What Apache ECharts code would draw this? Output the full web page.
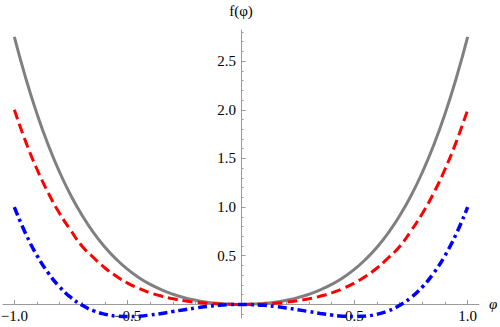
<!DOCTYPE html>
<html>
<head>
<meta charset="utf-8">
<script src="https://cdn.jsdelivr.net/npm/echarts@6/dist/echarts.min.js"></script>
<style>
html, body { margin: 0; padding: 0; background: #fff; }
#plot { width: 500px; height: 327px; }
</style>
</head>
<body>
<div id="plot"></div>
<script>
// values, phi from -1 to 1 in steps of 0.05
var phi = [-1.0, -0.95, -0.9, -0.85, -0.8, -0.75, -0.7, -0.65, -0.6, -0.55, -0.5,
    -0.45, -0.4, -0.35, -0.3, -0.25, -0.2, -0.15, -0.1, -0.05, 0,
    0.05, 0.1, 0.15, 0.2, 0.25, 0.3, 0.35, 0.4, 0.45, 0.5,
    0.55, 0.6, 0.65, 0.7, 0.75, 0.8, 0.85, 0.9, 0.95, 1.0];
var grayCurve = [2.75, 2.328, 1.958, 1.636, 1.357, 1.116, 0.91, 0.735, 0.587, 0.463, 0.359,
    0.274, 0.205, 0.149, 0.104, 0.069, 0.043, 0.023, 0.01, 0.003, 0,
    0.003, 0.01, 0.023, 0.043, 0.069, 0.104, 0.149, 0.205, 0.274, 0.359,
    0.463, 0.587, 0.735, 0.91, 1.116, 1.357, 1.636, 1.958, 2.328, 2.75];
var redCurve = [2.0, 1.673, 1.389, 1.144, 0.934, 0.756, 0.595, 0.479, 0.374, 0.289, 0.219,
    0.163, 0.118, 0.084, 0.057, 0.037, 0.022, 0.012, 0.005, 0.001, 0,
    0.001, 0.005, 0.012, 0.022, 0.037, 0.057, 0.084, 0.118, 0.163, 0.219,
    0.289, 0.374, 0.479, 0.595, 0.756, 0.934, 1.144, 1.389, 1.673, 2.0];
var blueCurve = [1.0, 0.727, 0.502, 0.322, 0.179, 0.07, -0.01, -0.066, -0.101, -0.12, -0.125,
    -0.121, -0.109, -0.093, -0.074, -0.055, -0.037, -0.022, -0.01, -0.003, 0,
    -0.003, -0.01, -0.022, -0.037, -0.055, -0.074, -0.093, -0.109, -0.121, -0.125,
    -0.12, -0.101, -0.066, -0.01, 0.07, 0.179, 0.322, 0.502, 0.727, 1.0];

var xMajor = [-1.0, -0.5, 0.5, 1.0];
var xMinor = [-1.0, -0.9, -0.8, -0.7, -0.6, -0.5, -0.4, -0.3, -0.2, -0.1,
    0.1, 0.2, 0.3, 0.4, 0.5, 0.6, 0.7, 0.8, 0.9, 1.0];
var yMajor = [0.5, 1.0, 1.5, 2.0, 2.5];
var yMinor = [-0.1, 0.1, 0.2, 0.3, 0.4, 0.5, 0.6, 0.7, 0.8, 0.9, 1.0, 1.1, 1.2, 1.3, 1.4,
    1.5, 1.6, 1.7, 1.8, 1.9, 2.0, 2.1, 2.2, 2.3, 2.4, 2.5, 2.6, 2.7, 2.8];

var chartDom = document.getElementById('plot');
var plotChart = echarts.init(chartDom, null, { renderer: 'svg' });
var axisColor = '#9a9a9a';
var font = "'Liberation Serif', 'Times New Roman', serif";

// grid box; the axes cross at (0, 0), so shift them in from the grid edges
var gridLeft = 3, gridRight = 21, gridTop = 30, gridBottom = 9;
var xMin = -1.05, xMax = 1.05, yMin = -0.14, yMax = 2.82;
var plotW = 500 - gridLeft - gridRight;
var plotH = 327 - gridTop - gridBottom;
var yAxisShift = -plotW * (0 - xMin) / (xMax - xMin);
var xAxisShift = -plotH * (0 - yMin) / (yMax - yMin);

function pairs(ys) {
    return phi.map(function (x, i) { return [x, ys[i]]; });
}

function minusSign(v) {
    return v.toFixed(1).replace('-', '\u2212');
}

var option = {
    animation: false,
    grid: { left: gridLeft, right: gridRight, top: gridTop, bottom: gridBottom, containLabel: false, outerBoundsMode: 'none' },
    xAxis: [{
        type: 'value',
        min: xMin,
        max: xMax,
        position: 'bottom',
        offset: xAxisShift,
        name: 'φ',
        nameGap: 10,
        nameTextStyle: { fontFamily: font, fontSize: 15, fontStyle: 'italic', color: '#000' },
        axisLine: { onZero: false, lineStyle: { color: axisColor, width: 1 } },
        axisTick: { inside: true, length: 4.5, customValues: xMajor, lineStyle: { color: axisColor } },
        axisLabel: {
            customValues: xMajor, margin: 4, color: '#000', fontFamily: font, fontSize: 15,
            formatter: minusSign
        },
        splitLine: { show: false }
    }, {
        type: 'value',
        min: xMin,
        max: xMax,
        position: 'bottom',
        offset: xAxisShift,
        axisLine: { show: false, onZero: false },
        axisTick: { inside: true, length: 2.5, customValues: xMinor, lineStyle: { color: axisColor } },
        axisLabel: { show: false },
        splitLine: { show: false }
    }],
    yAxis: [{
        type: 'value',
        min: yMin,
        max: yMax,
        position: 'left',
        offset: yAxisShift,
        name: 'f(φ)',
        nameGap: 12,
        nameTextStyle: { fontFamily: font, fontSize: 15, color: '#000' },
        axisLine: { onZero: false, lineStyle: { color: axisColor, width: 1 } },
        axisTick: { inside: true, length: 4.5, customValues: yMajor, lineStyle: { color: axisColor } },
        axisLabel: {
            customValues: yMajor, margin: 5, color: '#000', fontFamily: font, fontSize: 15,
            formatter: function (v) { return v.toFixed(1); }
        },
        splitLine: { show: false }
    }, {
        type: 'value',
        min: yMin,
        max: yMax,
        position: 'left',
        offset: yAxisShift,
        axisLine: { show: false, onZero: false },
        axisTick: { inside: true, length: 2.5, customValues: yMinor, lineStyle: { color: axisColor } },
        axisLabel: { show: false },
        splitLine: { show: false }
    }],
    series: [{
        name: 'gray',
        type: 'line',
        data: pairs(grayCurve),
        smooth: true,
        showSymbol: false,
        lineStyle: { color: '#808080', width: 3 }
    }, {
        name: 'red',
        type: 'line',
        data: pairs(redCurve),
        smooth: true,
        showSymbol: false,
        lineStyle: { color: '#ff0000', width: 3, type: [10, 5], cap: 'butt' }
    }, {
        name: 'blue',
        type: 'line',
        data: pairs(blueCurve),
        smooth: true,
        showSymbol: false,
        lineStyle: { color: '#0000ff', width: 3.5, type: [9, 4, 3, 4], cap: 'butt' }
    }]
};

option && plotChart.setOption(option);
</script>
</body>
</html>
